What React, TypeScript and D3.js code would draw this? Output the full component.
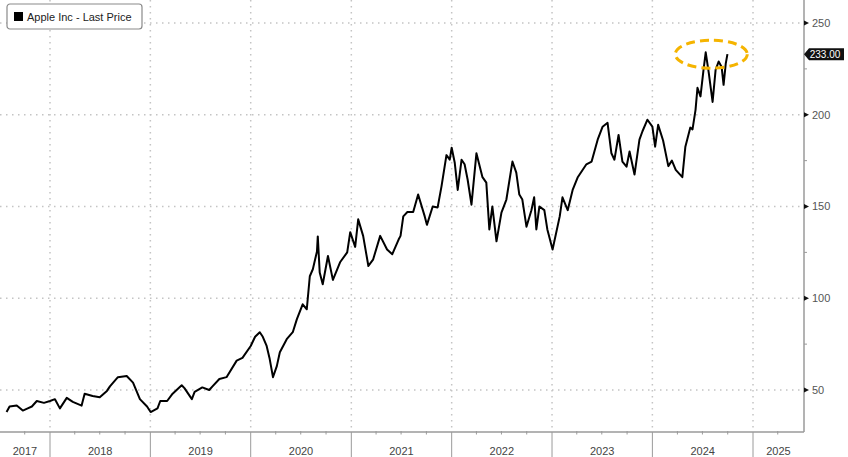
import React, { useEffect, useRef } from "react";
import { line, scaleLinear, scaleTime, select, timeMonth, timeYear, Selection } from "d3";

const WIDTH = 848;
const HEIGHT = 457;
const PLOT_RIGHT = 804;
const AXIS_Y = 432;
const FONT = "'Liberation Sans', Arial, sans-serif";
const GRID_COLOR = "#c4c4c4";
const AXIS_COLOR = "#9a9a9a";
const HIGHLIGHT = "#f5b400";

// Apple Inc - Last Price
const priceDates = [
    "2017-07-27", "2017-08-07", "2017-09-02", "2017-09-24", "2017-10-12", "2017-10-27", "2017-11-14", "2017-12-10",
    "2018-01-01", "2018-01-19", "2018-02-06", "2018-03-03", "2018-03-25", "2018-04-26", "2018-05-07", "2018-06-05",
    "2018-07-01", "2018-07-27", "2018-08-07", "2018-09-05", "2018-10-07", "2018-10-30", "2018-11-24", "2018-12-20",
    "2019-01-02", "2019-01-27", "2019-02-06", "2019-03-03", "2019-03-23", "2019-04-25", "2019-05-05", "2019-06-01",
    "2019-06-11", "2019-07-09", "2019-08-03", "2019-08-15", "2019-09-09", "2019-10-05", "2019-11-11", "2019-12-02",
    "2020-01-01", "2020-01-17", "2020-02-03", "2020-02-14", "2020-02-28", "2020-03-10", "2020-03-22", "2020-04-05",
    "2020-04-16", "2020-05-11", "2020-06-02", "2020-06-17", "2020-07-08", "2020-07-23", "2020-08-03", "2020-08-14",
    "2020-08-29", "2020-09-01", "2020-09-08", "2020-09-19", "2020-10-08", "2020-10-26", "2020-11-21", "2020-12-17",
    "2020-12-28", "2021-01-15", "2021-01-26", "2021-02-13", "2021-03-04", "2021-03-21", "2021-04-16", "2021-05-11",
    "2021-05-30", "2021-06-22", "2021-06-29", "2021-07-09", "2021-07-24", "2021-08-14", "2021-09-01", "2021-09-25",
    "2021-10-03", "2021-10-24", "2021-11-11", "2021-11-25", "2021-12-13", "2021-12-25", "2022-01-01", "2022-01-12",
    "2022-01-23", "2022-02-06", "2022-02-17", "2022-02-28", "2022-03-14", "2022-04-01", "2022-04-23", "2022-05-07",
    "2022-05-18", "2022-05-29", "2022-06-13", "2022-07-01", "2022-07-19", "2022-08-10", "2022-08-24", "2022-09-04",
    "2022-09-15", "2022-09-30", "2022-10-18", "2022-10-28", "2022-11-05", "2022-11-16", "2022-12-04", "2022-12-15",
    "2023-01-03", "2023-01-29", "2023-02-08", "2023-02-27", "2023-03-17", "2023-04-04", "2023-05-06", "2023-05-25",
    "2023-06-16", "2023-07-04", "2023-07-22", "2023-08-05", "2023-08-16", "2023-08-31", "2023-09-14", "2023-09-29",
    "2023-10-10", "2023-10-28", "2023-11-15", "2023-11-26", "2023-12-14", "2024-01-01", "2024-01-11", "2024-01-22",
    "2024-02-09", "2024-02-28", "2024-03-12", "2024-03-26", "2024-04-19", "2024-04-30", "2024-05-18", "2024-05-26",
    "2024-06-06", "2024-06-13", "2024-06-24", "2024-07-05", "2024-07-13", "2024-07-24", "2024-08-07", "2024-08-18",
    "2024-08-29", "2024-09-09", "2024-09-16", "2024-09-24", "2024-09-30",
];

const priceValues = [
    38, 41, 41.5, 38.8, 40, 41, 44, 43,
    44, 45, 40, 45.7, 43.5, 41.5, 48, 46.7,
    46, 49.5, 52, 57, 57.6, 54, 45, 41,
    38, 40, 44, 44, 48, 52.6, 51, 45,
    49, 51.4, 50, 52, 56, 57, 66, 67.5,
    74, 79, 81.5, 79, 74, 67, 57, 63,
    70.6, 77.7, 81.5, 88.6, 96.7, 94, 112, 115.8,
    125.5, 133.7, 114, 107.6, 123, 110, 119.6, 125,
    136, 128, 143, 134, 117.6, 121, 134, 126.6,
    124, 132, 134, 144.6, 147, 147, 156.5, 144.6,
    140, 150, 149.5, 161, 178, 175.5, 182, 174,
    159, 175.5, 173, 164.7, 151, 179, 166, 163,
    137.5, 150, 131, 146.7, 153.8, 174.5, 168.5, 156.5,
    153.8, 139, 148, 155, 137.5, 150, 148, 137.5,
    126.6, 144.6, 155, 148, 159, 165.8, 173, 174.5,
    186.4, 193.5, 195.6, 179, 175.5, 189, 174.5, 171.7,
    180, 167.4, 186.4, 191, 197.3, 193.5, 182.6, 194.5,
    186, 172, 175, 170, 166, 182.6, 193, 192,
    202.7, 214.7, 210, 224.5, 234, 223, 207, 224.5,
    229, 226, 216.3, 228, 233,
];

const yTicks = [50, 100, 150, 200, 250];
const yMinorTicks = [75, 125, 175, 225];
const yearLabels = ["2017", "2018", "2019", "2020", "2021", "2022", "2023", "2024", "2025"];
const legendLabel = "Apple Inc - Last Price";
const lastPriceLabel = "233.00";

type Point = { date: Date; value: number };
type G = Selection<SVGGElement, unknown, null, undefined>;

const xScale = scaleTime()
    .domain([new Date(2018, 0, 1), new Date(2025, 0, 1)])
    .range([50, 753]);
const yScale = scaleLinear().domain([50, 250]).range([390, 23]);

export default function App() {
    const svgRef = useRef<SVGSVGElement>(null);

    useEffect(() => {
        const svg = select(svgRef.current);
        svg.selectAll("*").remove();
        const g = svg.append("g");
        drawGrid(g);
        drawAxes(g);
        drawLine(g);
        drawHighlight(g);
        drawLegend(g);
    }, []);

    return (
        <svg
            ref={svgRef}
            width={WIDTH}
            height={HEIGHT}
            style={{ position: "absolute", left: 0, top: 0, background: "#fff" }}
        />
    );
}

const drawGrid = (g: G) => {
    yTicks.forEach(t => {
        g.append("line")
            .attr("x1", 0).attr("x2", PLOT_RIGHT)
            .attr("y1", yScale(t)).attr("y2", yScale(t))
            .attr("stroke", GRID_COLOR).attr("stroke-width", 1.5)
            .attr("stroke-dasharray", "1.5,4.5");
    });
    timeYear.range(new Date(2018, 0, 1), new Date(2025, 0, 2)).forEach(d => {
        g.append("line")
            .attr("x1", xScale(d)).attr("x2", xScale(d))
            .attr("y1", 0).attr("y2", AXIS_Y)
            .attr("stroke", GRID_COLOR).attr("stroke-width", 1.5)
            .attr("stroke-dasharray", "1.5,4.5");
    });
};

const drawAxes = (g: G) => {
    // bottom axis
    g.append("line")
        .attr("x1", 0).attr("x2", PLOT_RIGHT)
        .attr("y1", AXIS_Y).attr("y2", AXIS_Y)
        .attr("stroke", AXIS_COLOR).attr("stroke-width", 1.5);

    timeYear.range(new Date(2018, 0, 1), new Date(2025, 0, 2)).forEach(d => {
        g.append("line")
            .attr("x1", xScale(d)).attr("x2", xScale(d))
            .attr("y1", AXIS_Y).attr("y2", HEIGHT)
            .attr("stroke", AXIS_COLOR).attr("stroke-width", 1);
    });

    timeMonth.every(3)!.range(new Date(2017, 6, 1), new Date(2025, 6, 1))
        .filter(d => d.getMonth() !== 0)
        .forEach(d => {
            g.append("line")
                .attr("x1", xScale(d)).attr("x2", xScale(d))
                .attr("y1", AXIS_Y - 1).attr("y2", AXIS_Y + 2.5)
                .attr("stroke", AXIS_COLOR).attr("stroke-width", 1);
        });

    yearLabels.forEach(y => {
        const yr = +y;
        const x0 = Math.max(0, xScale(new Date(yr, 0, 1)));
        const x1 = Math.min(PLOT_RIGHT, xScale(new Date(yr + 1, 0, 1)));
        g.append("text")
            .attr("x", (x0 + x1) / 2).attr("y", 455)
            .attr("text-anchor", "middle")
            .attr("font-family", FONT).attr("font-size", 11)
            .attr("fill", "#444")
            .text(y);
    });

    // right axis
    g.append("line")
        .attr("x1", PLOT_RIGHT).attr("x2", PLOT_RIGHT)
        .attr("y1", 0).attr("y2", AXIS_Y)
        .attr("stroke", AXIS_COLOR).attr("stroke-width", 1.5);

    yMinorTicks.forEach(t => {
        g.append("line")
            .attr("x1", PLOT_RIGHT).attr("x2", PLOT_RIGHT + 3)
            .attr("y1", yScale(t)).attr("y2", yScale(t))
            .attr("stroke", AXIS_COLOR).attr("stroke-width", 1);
    });

    yTicks.forEach(t => {
        const y = yScale(t);
        g.append("path")
            .attr("d", `M${PLOT_RIGHT},${y - 2.5}L${PLOT_RIGHT + 5},${y}L${PLOT_RIGHT},${y + 2.5}Z`)
            .attr("fill", "#111");
        g.append("text")
            .attr("x", PLOT_RIGHT + 8).attr("y", y)
            .attr("dy", "0.35em")
            .attr("font-family", FONT).attr("font-size", 11)
            .attr("fill", "#555")
            .text(t);
    });
};

const drawLine = (g: G) => {
    const data: Point[] = priceDates.map((d, i) => ({ date: new Date(d + "T00:00:00"), value: priceValues[i] }));
    const lineFunc = line<Point>()
        .x(d => xScale(d.date))
        .y(d => yScale(d.value));
    g.append("path")
        .attr("d", lineFunc(data))
        .attr("fill", "none")
        .attr("stroke", "#000")
        .attr("stroke-width", 2)
        .attr("stroke-linejoin", "round");

    // last price tag
    const last = data[data.length - 1];
    const y = yScale(last.value);
    g.append("path")
        .attr("d", `M${PLOT_RIGHT},${y}L${PLOT_RIGHT + 5},${y - 6}H844V${y + 6}H${PLOT_RIGHT + 5}Z`)
        .attr("fill", "#111");
    g.append("text")
        .attr("x", 825).attr("y", y)
        .attr("dy", "0.35em")
        .attr("text-anchor", "middle")
        .attr("font-family", FONT).attr("font-size", 10)
        .attr("fill", "#fff")
        .text(lastPriceLabel);
};

const drawHighlight = (g: G) => {
    const peak = new Date(2024, 6, 15);
    g.append("ellipse")
        .attr("cx", xScale(peak) + 5).attr("cy", yScale(233))
        .attr("rx", 36).attr("ry", 14)
        .attr("fill", "none")
        .attr("stroke", HIGHLIGHT).attr("stroke-width", 3)
        .attr("stroke-dasharray", "9,5");
};

const drawLegend = (g: G) => {
    const leg = g.append("g").attr("transform", "translate(7,4)");
    leg.append("rect")
        .attr("width", 135).attr("height", 25)
        .attr("rx", 3)
        .attr("fill", "#fff")
        .attr("stroke", "#8a8a8a").attr("stroke-width", 1.2);
    leg.append("rect")
        .attr("x", 7).attr("y", 8).attr("width", 9).attr("height", 9)
        .attr("fill", "#000");
    leg.append("text")
        .attr("x", 20).attr("y", 17)
        .attr("font-family", FONT).attr("font-size", 11)
        .attr("fill", "#222")
        .text(legendLabel);
};
